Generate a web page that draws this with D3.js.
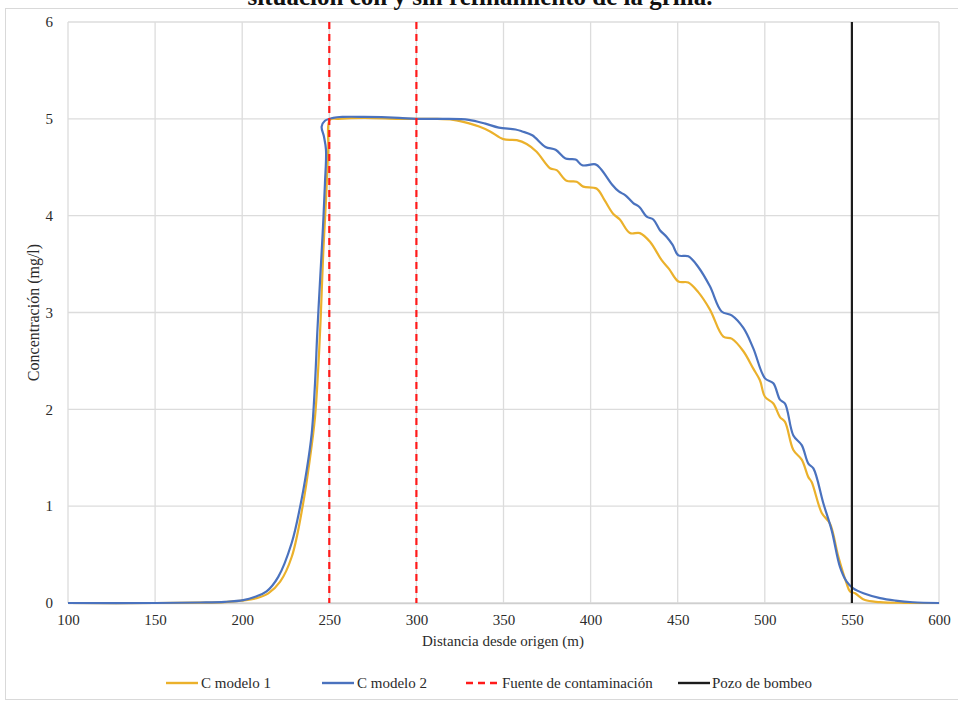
<!DOCTYPE html>
<html>
<head>
<meta charset="utf-8">
<script src="https://cdn.jsdelivr.net/npm/d3@7/dist/d3.min.js"></script>
<style>
  html, body { margin: 0; padding: 0; background: #fff; }
  svg { display: block; font-family: "Liberation Serif", "Times New Roman", serif; }
</style>
</head>
<body>
<svg id="chart" width="958" height="702"></svg>
<script>
// Concentration profiles along the aquifer (distance in m, concentration in mg/l)
const modelo1X = [100, 150, 175, 190, 200, 208.3, 215, 221.8, 228.5, 235, 238.8, 241.8, 243.7, 245.1, 246.6, 248.1, 249.4, 250.3, 255, 270, 290, 300, 310, 321.2, 330.8, 336, 342.3, 349.9, 357.6, 363.3, 369, 376.7, 380.5, 386.2, 392, 395.8, 403.4, 408, 412.9, 416.8, 422.6, 428.3, 434.1, 440.8, 445, 450.4, 456.1, 461.8, 468.5, 476.2, 481, 487.7, 493.4, 497.2, 500.1, 504.9, 508.7, 511.6, 516.4, 521.2, 525, 526.9, 532.7, 537.4, 542.2, 547, 548.9, 551.8, 557.5, 566, 580, 600];
const modelo1Y = [0, 0, 0.003, 0.01, 0.025, 0.05, 0.1, 0.22, 0.48, 1.03, 1.48, 1.92, 2.44, 2.96, 3.65, 4.16, 4.68, 4.99, 5.0, 5.01, 5.0, 5.0, 5.0, 4.99, 4.95, 4.92, 4.87, 4.79, 4.78, 4.74, 4.66, 4.49, 4.47, 4.36, 4.35, 4.3, 4.28, 4.16, 4.02, 3.96, 3.82, 3.82, 3.73, 3.54, 3.45, 3.32, 3.31, 3.21, 3.03, 2.75, 2.73, 2.6, 2.42, 2.3, 2.13, 2.06, 1.92, 1.87, 1.58, 1.48, 1.3, 1.25, 0.93, 0.82, 0.48, 0.2, 0.12, 0.1, 0.03, 0.01, 0.002, 0];

const modelo2X = [100, 150, 175.8, 190, 200.6, 207.5, 214, 220.7, 228.4, 233.2, 237, 239.9, 241.8, 243.1, 244.6, 246.2, 247.5, 248.1, 246.9, 245.6, 247.5, 252.3, 258, 270, 290, 300, 315, 330.1, 339.6, 347.3, 356.9, 360.7, 366.5, 374.1, 379.9, 385.6, 391.4, 395.2, 402.8, 406, 412.4, 416.2, 420, 424.5, 428, 432.2, 436, 439.8, 443.7, 447, 450.4, 456.1, 461.8, 468.5, 475.2, 481, 487.7, 493.4, 500.1, 504.9, 508.7, 511.6, 516.4, 521.2, 525, 527.9, 533.6, 538.4, 543.2, 547, 550.8, 556.6, 566.2, 575, 585, 600];
const modelo2Y = [0, 0, 0.005, 0.012, 0.03, 0.065, 0.12, 0.27, 0.62, 0.99, 1.37, 1.75, 2.27, 2.79, 3.3, 3.82, 4.33, 4.68, 4.82, 4.92, 4.98, 5.01, 5.02, 5.02, 5.01, 5.0, 5.0, 4.99, 4.95, 4.91, 4.89, 4.87, 4.83, 4.71, 4.68, 4.59, 4.58, 4.52, 4.53, 4.48, 4.32, 4.25, 4.21, 4.13, 4.09, 3.99, 3.96, 3.85, 3.78, 3.7, 3.59, 3.58, 3.47, 3.27, 3.01, 2.97, 2.84, 2.63, 2.32, 2.27, 2.1, 2.06, 1.73, 1.63, 1.44, 1.39, 1.03, 0.75, 0.37, 0.22, 0.15, 0.1, 0.05, 0.025, 0.008, 0];

// Source zone limits and pumping well position (m)
const fuenteX = [250, 300];
const pozoX = [550];

const xTicks = [100, 150, 200, 250, 300, 350, 400, 450, 500, 550, 600];
const yTicks = [0, 1, 2, 3, 4, 5, 6];

const titulo = "situación con y sin refinamiento de la grilla.";
const ejeX = "Distancia desde origen (m)";
const ejeY = "Concentración (mg/l)";
const leyenda = ["C modelo 1", "C modelo 2", "Fuente de contaminación", "Pozo de bombeo"];

const colYellow = "#EBB12B";
const colBlue = "#4A72BE";
const colRed = "#FF1A1A";
const colBlack = "#1c1c1c";
const colGrid = "#dcdcdc";
const colText = "#2b2b2b";

const svg = d3.select("#chart");
const plotLeft = 68, plotRight = 939, plotTop = 22, plotBottom = 603;

const x = d3.scaleLinear().domain([100, 600]).range([plotLeft, plotRight]);
const y = d3.scaleLinear().domain([0, 6]).range([plotBottom, plotTop]);

// outer chart frame
svg.append("rect")
  .attr("x", 5.5).attr("y", 8.5).attr("width", 960).attr("height", 691)
  .attr("fill", "none").attr("stroke", "#d9d9d9").attr("stroke-width", 1);

// title, running off the top edge of the chart area
svg.append("text")
  .attr("x", 480).attr("y", 5)
  .attr("text-anchor", "middle")
  .attr("font-size", 25).attr("font-weight", "bold")
  .attr("fill", "#111")
  .text(titulo);

// gridlines
const grid = svg.append("g");
grid.selectAll("line.v").data(xTicks).join("line")
  .attr("class", "v")
  .attr("x1", d => x(d)).attr("x2", d => x(d))
  .attr("y1", plotTop).attr("y2", plotBottom)
  .attr("stroke", colGrid).attr("stroke-width", 1.3);
grid.selectAll("line.h").data(yTicks).join("line")
  .attr("class", "h")
  .attr("x1", plotLeft).attr("x2", plotRight)
  .attr("y1", d => y(d)).attr("y2", d => y(d))
  .attr("stroke", colGrid).attr("stroke-width", 1.3);

// axes (labels only, lines are the grid)
const xAxis = svg.append("g")
  .attr("transform", `translate(0,${plotBottom})`)
  .call(d3.axisBottom(x).tickValues(xTicks).tickSize(0).tickPadding(11).tickFormat(d3.format("d")));
xAxis.select(".domain").attr("stroke", "#cfcfcf").attr("stroke-width", 1.3);
xAxis.selectAll("text").attr("font-family", "Liberation Serif").attr("font-size", 15).attr("fill", colText);

const yAxis = svg.append("g")
  .attr("transform", `translate(${plotLeft},0)`)
  .call(d3.axisLeft(y).tickValues(yTicks).tickSize(0).tickPadding(15).tickFormat(d3.format("d")));
yAxis.select(".domain").remove();
yAxis.selectAll("text").attr("font-family", "Liberation Serif").attr("font-size", 15).attr("fill", colText);

// axis titles
svg.append("text")
  .attr("x", 503).attr("y", 646)
  .attr("text-anchor", "middle").attr("font-size", 15).attr("fill", colText)
  .text(ejeX);
svg.append("text")
  .attr("transform", `translate(39,${(plotTop + plotBottom) / 2}) rotate(-90)`)
  .attr("text-anchor", "middle").attr("font-size", 16).attr("fill", colText)
  .text(ejeY);

// concentration curves
const line = d3.line()
  .x(d => x(d[0])).y(d => y(d[1]))
  .curve(d3.curveCatmullRom.alpha(0.5));

const serie1 = modelo1X.map((v, i) => [v, modelo1Y[i]]);
const serie2 = modelo2X.map((v, i) => [v, modelo2Y[i]]);

svg.append("path").datum(serie1)
  .attr("d", line).attr("fill", "none")
  .attr("stroke", colYellow).attr("stroke-width", 2.2).attr("stroke-linejoin", "round");
svg.append("path").datum(serie2)
  .attr("d", line).attr("fill", "none")
  .attr("stroke", colBlue).attr("stroke-width", 2.2).attr("stroke-linejoin", "round");

// source limits
svg.selectAll("line.fuente").data(fuenteX).join("line")
  .attr("class", "fuente")
  .attr("x1", d => x(d)).attr("x2", d => x(d))
  .attr("y1", y(6)).attr("y2", y(0))
  .attr("stroke", colRed).attr("stroke-width", 2.2)
  .attr("stroke-dasharray", "7,5");

// pumping well
svg.selectAll("line.pozo").data(pozoX).join("line")
  .attr("class", "pozo")
  .attr("x1", d => x(d)).attr("x2", d => x(d))
  .attr("y1", y(6)).attr("y2", y(0))
  .attr("stroke", colBlack).attr("stroke-width", 2.2);

// legend
const legItems = [
  { label: leyenda[0], color: colYellow, dash: null, x0: 166, tx: 201 },
  { label: leyenda[1], color: colBlue, dash: null, x0: 322, tx: 357 },
  { label: leyenda[2], color: colRed, dash: "7,5", x0: 466, tx: 502 },
  { label: leyenda[3], color: colBlack, dash: null, x0: 678, tx: 712 }
];
const leg = svg.append("g");
legItems.forEach(it => {
  leg.append("line")
    .attr("x1", it.x0).attr("x2", it.x0 + 32)
    .attr("y1", 683).attr("y2", 683)
    .attr("stroke", it.color).attr("stroke-width", 2.4)
    .attr("stroke-dasharray", it.dash);
  leg.append("text")
    .attr("x", it.tx).attr("y", 688)
    .attr("font-size", 15).attr("fill", colText)
    .text(it.label);
});
</script>
</body>
</html>
